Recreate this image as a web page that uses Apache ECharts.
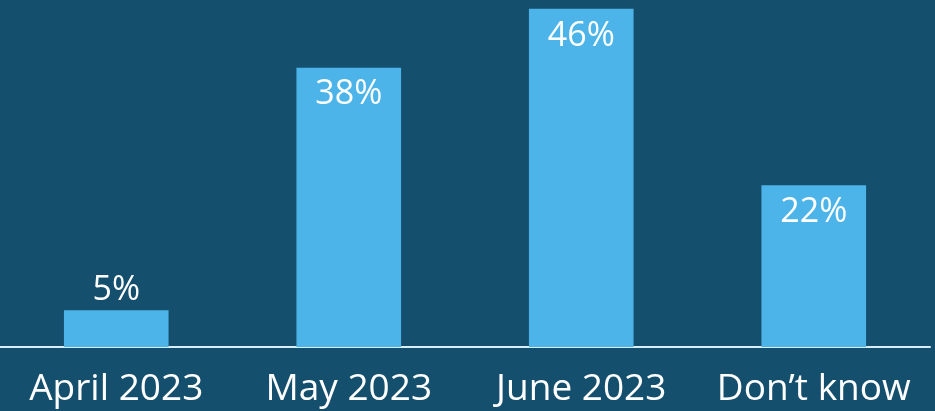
<!DOCTYPE html>
<html><head><meta charset="utf-8">
<script src="https://cdn.jsdelivr.net/npm/echarts@6/dist/echarts.min.js"></script>
<style>html,body{margin:0;padding:0;background:#154f6e;}#c{width:935px;height:411px;}</style>
</head><body><div id="c"></div>
<script>
var categories = ["April 2023", "May 2023", "June 2023", "Don\u2019t know"];
var values = [5, 38, 46, 22];
var chart = echarts.init(document.getElementById('c'));
chart.setOption({
  backgroundColor: '#154f6e',
  animation: false,
  grid: {left: 0, right: 5, top: 0, bottom: 64, containLabel: false},
  xAxis: {
    type: 'category', data: categories,
    axisLine: {show: true, lineStyle: {color: '#d8eef8', width: 2}},
    axisTick: {show: false},
    axisLabel: {color: '#ffffff', fontSize: 37, fontFamily: 'Open Sans', margin: 24, interval: 0}
  },
  yAxis: {type: 'value', min: 0, max: 47.2, show: false, splitLine: {show: false}},
  series: [{
    type: 'bar', data: values.map(function(v, i){
      return {value: v, label: i === 0 ? {position: 'top', distance: 3} : {position: 'insideTop', distance: 10}};
    }),
    barWidth: '45%',
    itemStyle: {color: '#4cb4e8'},
    label: {show: true, color: '#ffffff', fontSize: 34, fontFamily: 'Open Sans', formatter: '{c}%'}
  }]
});
</script></body></html>
